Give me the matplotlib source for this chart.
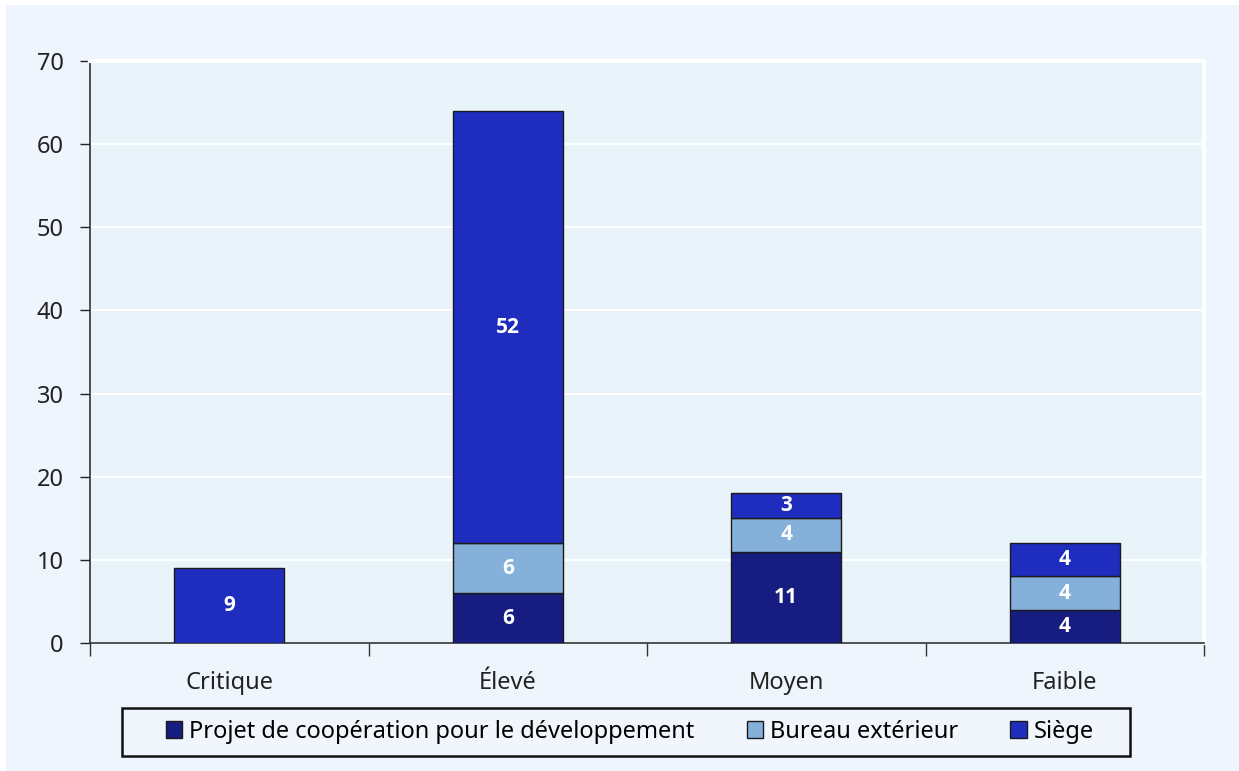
import matplotlib.pyplot as plt
from matplotlib.patches import Rectangle
import numpy as np

plt.rcParams['font.family'] = ['Noto Sans', 'DejaVu Sans']

categories = ['Critique', 'Élevé', 'Moyen', 'Faible']
projet = [0, 6, 11, 4]
bureau = [0, 6, 4, 4]
siege = [9, 52, 3, 4]
series_names = ['Projet de coopération pour le développement', 'Bureau extérieur', 'Siège']

colors = ['#161c80', '#85b0da', '#1f2dbe']
bg_fig = '#eef5fc'
bg_ax = '#e9f3fa'

W, H = 1239, 771
fig = plt.figure(figsize=(W / 100, H / 100), dpi=100, facecolor='white')
fig.patches.append(Rectangle((6 / W, 0), 1 - 6 / W, 1 - 5 / H,
                             transform=fig.transFigure, facecolor=bg_fig,
                             edgecolor='none', zorder=-10))

ax = fig.add_axes([90 / W, 1 - 643 / H, (1204 - 90) / W, (643 - 61) / H])
ax.set_facecolor(bg_ax)

x = np.arange(len(categories))
width = 0.395
bottom = np.zeros(len(categories))
for vals, name, col in zip([projet, bureau, siege], series_names, colors):
    vals = np.array(vals)
    bars = ax.bar(x, vals, width, bottom=bottom, color=col, edgecolor='#1a1a1a',
                  linewidth=1.0, label=name, zorder=3)
    for b, v, bt in zip(bars, vals, bottom):
        if v > 0:
            ax.text(b.get_x() + b.get_width() / 2, bt + v / 2, str(v),
                    ha='center', va='center', color='white',
                    fontsize=15, fontweight='bold', family=['Open Sans', 'DejaVu Sans'],
                    zorder=4)
    bottom += vals

ax.set_xlim(-0.5, 3.5)
ax.set_ylim(0, 70)
ax.set_yticks(range(0, 71, 10))
ax.yaxis.grid(True, color='white', linewidth=1.5, zorder=0)
ax.set_axisbelow(True)

ax.set_xticks(x)
ax.set_xticklabels(categories)
ax.set_xticks(np.arange(-0.5, 3.6, 1), minor=True)
ax.tick_params(axis='x', which='major', length=0, pad=20, labelsize=17, colors='#222222')
ax.tick_params(axis='x', which='minor', length=9, width=1.0, direction='out', color='#333333')
ax.tick_params(axis='y', length=7, width=1.0, labelsize=17, colors='#222222', pad=12)

for side in ['top', 'right']:
    ax.spines[side].set_color('white')
    ax.spines[side].set_linewidth(3)
for side in ['left', 'bottom']:
    ax.spines[side].set_color('#333333')
    ax.spines[side].set_linewidth(1.2)

# legend box drawn separately so it can be wider than its entries
fig.patches.append(Rectangle((122 / W, 1 - 756 / H), (1130 - 122) / W, 48 / H,
                             transform=fig.transFigure, facecolor='#f0f6fc',
                             edgecolor='#111111', linewidth=1.8, zorder=1))

handles, labels = ax.get_legend_handles_labels()
leg = fig.legend(handles, labels, loc='center', bbox_to_anchor=(630 / W, 1 - 732 / H),
                 ncol=3, frameon=False, fontsize=17,
                 handlelength=0.7, handleheight=0.7, handletextpad=0.3,
                 columnspacing=2.2, borderpad=0.3, borderaxespad=0)
for h in leg.legend_handles:
    h.set_edgecolor('#1a1a1a')
    h.set_linewidth(1.0)

fig.savefig('out.png', dpi=100, facecolor=fig.get_facecolor())
